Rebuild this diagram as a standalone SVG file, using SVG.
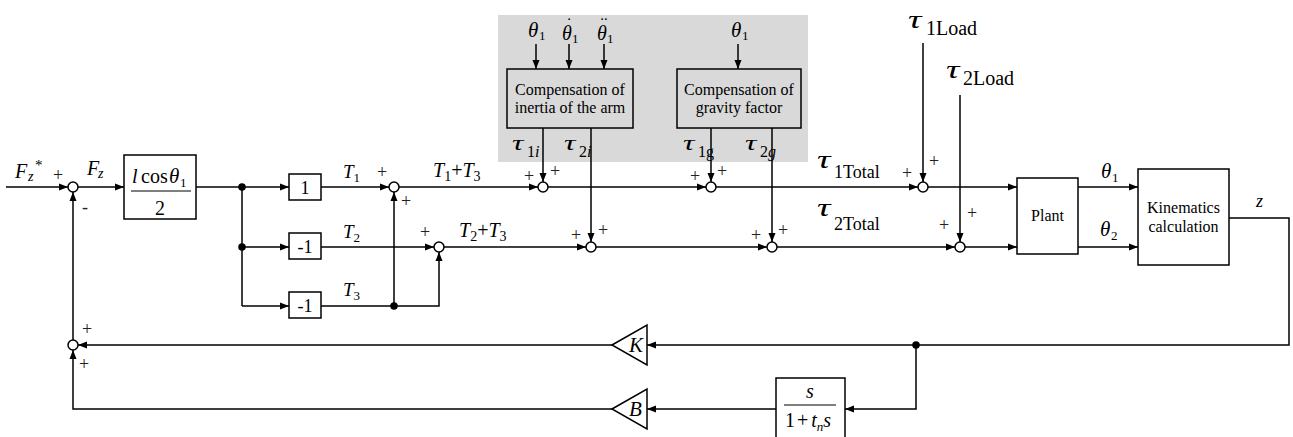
<svg xmlns="http://www.w3.org/2000/svg" width="1293" height="437" viewBox="0 0 1293 437">
<defs>
<style>
.ln{stroke:#000;stroke-width:1.5;fill:none}
.ar{marker-end:url(#ah)}
.blk{fill:#fff;stroke:#000;stroke-width:1.5}
.gblk{fill:#d9d9d9;stroke:#000;stroke-width:1.5}
.sum{fill:#fff;stroke:#000;stroke-width:1.5}
.dot{fill:#000}
text{font-family:"Liberation Serif","Times New Roman",serif;fill:#000}
.i{font-style:italic}
.pm{font-size:18px;fill:#222;text-anchor:middle}
.c{text-anchor:middle}
.bt{font-size:16px;text-anchor:middle}
</style>
<marker id="ah" markerWidth="9" markerHeight="8" refX="9" refY="4" orient="auto" markerUnits="userSpaceOnUse"><path d="M0,0.5 L9,4 L0,7.5 z" fill="#000"/></marker>
</defs>
<rect width="1293" height="437" fill="#fff"/>
<rect id="compensation-region" x="498" y="15" width="310" height="147" fill="#d9d9d9"/>

<g id="connectors" class="ln">
<path class="ar" d="M6,187 H68"/>
<path class="ar" d="M78,187 H124"/>
<path class="ar" d="M196,187 H289"/>
<path d="M242,187 V306"/>
<path class="ar" d="M242,247 H289"/>
<path class="ar" d="M242,306 H289"/>
<path class="ar" d="M321,187 H389"/>
<path class="ar" d="M321,247 H434"/>
<path class="ar" d="M321,306 H439 V252"/>
<path class="ar" d="M394,306 V192"/>
<path class="ar" d="M399,187 H538"/>
<path class="ar" d="M444,247 H586"/>
<path class="ar" d="M548,187 H706"/>
<path class="ar" d="M716,187 H918"/>
<path class="ar" d="M928,187 H1017"/>
<path class="ar" d="M596,247 H767"/>
<path class="ar" d="M777,247 H955"/>
<path class="ar" d="M965,247 H1017"/>
<path class="ar" d="M543,128 V182"/>
<path class="ar" d="M591,128 V242"/>
<path class="ar" d="M711,128 V182"/>
<path class="ar" d="M772,128 V242"/>
<path class="ar" d="M536,44 V69"/>
<path class="ar" d="M569,44 V69"/>
<path class="ar" d="M604,44 V69"/>
<path class="ar" d="M738,44 V69"/>
<path class="ar" d="M923,43 V182"/>
<path class="ar" d="M960,95 V242"/>
<path class="ar" d="M1078,187 H1138"/>
<path class="ar" d="M1078,247 H1138"/>
<path class="ar" d="M1229,218 H1289 V345 H647"/>
<path class="ar" d="M612,345 H78"/>
<path class="ar" d="M916,345 V409 H845"/>
<path class="ar" d="M776,409 H647"/>
<path class="ar" d="M612,409 H73 V350"/>
<path class="ar" d="M73,340 V192"/>
<circle class="dot" cx="242" cy="187" r="3"/>
<circle class="dot" cx="242" cy="247" r="3"/>
<circle class="dot" cx="394" cy="306" r="3"/>
<circle class="dot" cx="916" cy="345" r="3"/>
</g>

<g id="input-label">
<text x="15" y="178" class="i" font-size="20">F</text><text x="28" y="181" class="i" font-size="14">z</text><text x="35" y="170" font-size="15">*</text>
<text x="87" y="175" class="i" font-size="20">F</text><text x="98" y="178" class="i" font-size="14">z</text>
</g>

<g id="sum0"><circle class="sum" cx="73" cy="187" r="5"/><text class="pm" x="58" y="181">+</text><text class="pm" x="85" y="213">-</text></g>

<g id="gain-lcos">
<rect class="blk" x="124" y="155" width="72" height="64"/>
<text x="132" y="183" class="i" font-size="20">l</text>
<text x="141" y="183" font-size="20">cos</text>
<text x="169" y="183" class="i" font-size="21">θ</text>
<text x="180" y="187" font-size="13">1</text>
<line x1="131" y1="191" x2="191" y2="191" stroke="#000" stroke-width="1.2"/>
<text x="160" y="215" class="c" font-size="20">2</text>
</g>

<g id="gain-1"><rect class="blk" x="289" y="174" width="32" height="26"/><text x="305" y="194" class="c" font-size="18">1</text></g>
<g id="gain-m1a"><rect class="blk" x="289" y="233" width="32" height="26"/><text x="305" y="253" class="c" font-size="18">-1</text></g>
<g id="gain-m1b"><rect class="blk" x="289" y="292" width="32" height="26"/><text x="305" y="312" class="c" font-size="18">-1</text></g>

<g id="t-labels">
<text x="343" y="178" font-size="19"><tspan class="i">T</tspan><tspan font-size="13" dy="4">1</tspan></text>
<text x="343" y="238" font-size="19"><tspan class="i">T</tspan><tspan font-size="13" dy="4">2</tspan></text>
<text x="343" y="296" font-size="19"><tspan class="i">T</tspan><tspan font-size="13" dy="4">3</tspan></text>
<text x="433" y="177" font-size="20"><tspan class="i">T</tspan><tspan font-size="14" dy="4">1</tspan><tspan dy="-4">+</tspan><tspan class="i">T</tspan><tspan font-size="14" dy="4">3</tspan></text>
<text x="459" y="237" font-size="20"><tspan class="i">T</tspan><tspan font-size="14" dy="4">2</tspan><tspan dy="-4">+</tspan><tspan class="i">T</tspan><tspan font-size="14" dy="4">3</tspan></text>
</g>

<g id="sum1"><circle class="sum" cx="394" cy="187" r="5"/><text class="pm" x="382" y="178">+</text><text class="pm" x="406" y="207">+</text></g>
<g id="sum2"><circle class="sum" cx="439" cy="247" r="5"/><text class="pm" x="425" y="238">+</text></g>

<g id="inertia-comp">
<rect class="gblk" x="507" y="69" width="126" height="59"/>
<text class="bt" x="570" y="95">Compensation of</text>
<text class="bt" x="570" y="113">inertia of the arm</text>
<text x="528" y="37" class="i" font-size="21">θ</text><text x="539" y="40" font-size="13">1</text>
<text x="562" y="40" class="i" font-size="20">θ</text><text x="572" y="43" font-size="13">1</text><text x="569" y="20" class="c" font-size="15">.</text>
<text x="597" y="40" class="i" font-size="20">θ</text><text x="607" y="43" font-size="13">1</text><text x="604" y="20" class="c" font-size="15">..</text>
<text transform="translate(512,150) scale(1.45,1)" class="i" font-size="22">τ</text><text x="527" y="157" font-size="16">1<tspan class="i">i</tspan></text>
<text transform="translate(564,150) scale(1.45,1)" class="i" font-size="22">τ</text><text x="579" y="157" font-size="16">2<tspan class="i">i</tspan></text>
</g>

<g id="gravity-comp">
<rect class="gblk" x="677" y="69" width="124" height="59"/>
<text class="bt" x="739" y="95">Compensation of</text>
<text class="bt" x="739" y="113">gravity factor</text>
<text x="731" y="37" class="i" font-size="21">θ</text><text x="742" y="40" font-size="13">1</text>
<text transform="translate(683,150) scale(1.45,1)" class="i" font-size="22">τ</text><text x="698" y="157" font-size="16">1g</text>
<text transform="translate(745,150) scale(1.45,1)" class="i" font-size="22">τ</text><text x="760" y="157" font-size="16">2<tspan class="i">g</tspan></text>
</g>

<g id="sumA"><circle class="sum" cx="543" cy="187" r="5"/><text class="pm" x="529" y="182">+</text><text class="pm" x="555" y="177">+</text></g>
<g id="sumB"><circle class="sum" cx="711" cy="187" r="5"/><text class="pm" x="695" y="182">+</text><text class="pm" x="722" y="177">+</text></g>
<g id="sumC"><circle class="sum" cx="591" cy="247" r="5"/><text class="pm" x="576" y="241">+</text><text class="pm" x="603" y="236">+</text></g>
<g id="sumD"><circle class="sum" cx="772" cy="247" r="5"/><text class="pm" x="756" y="241">+</text><text class="pm" x="783" y="236">+</text></g>
<g id="sumE"><circle class="sum" cx="923" cy="187" r="5"/><text class="pm" x="907" y="179">+</text><text class="pm" x="934" y="167">+</text></g>
<g id="sumF"><circle class="sum" cx="960" cy="247" r="5"/><text class="pm" x="944" y="231">+</text><text class="pm" x="972" y="219">+</text></g>

<g id="tau-labels">
<text transform="translate(908,28) scale(1.5,1)" class="i" font-size="25">τ</text><text x="926" y="35" font-size="20">1Load</text>
<text transform="translate(946,78) scale(1.5,1)" class="i" font-size="25">τ</text><text x="963" y="85" font-size="20">2Load</text>
<text transform="translate(817,168) scale(1.5,1)" class="i" font-size="25">τ</text><text x="834" y="178" font-size="18">1Total</text>
<text transform="translate(817,216) scale(1.5,1)" class="i" font-size="25">τ</text><text x="834" y="230" font-size="18">2Total</text>
</g>

<g id="plant"><rect class="blk" x="1017" y="178" width="61" height="76"/><text class="bt" x="1047.5" y="221">Plant</text></g>

<g id="kinematics"><rect class="blk" x="1138" y="169" width="91" height="96"/><text class="bt" x="1183.5" y="213">Kinematics</text><text class="bt" x="1183.5" y="232">calculation</text></g>

<g id="out-labels">
<text x="1101" y="178" class="i" font-size="21">θ</text><text x="1112" y="182" font-size="13">1</text>
<text x="1100" y="236" class="i" font-size="21">θ</text><text x="1111" y="240" font-size="13">2</text>
<text x="1256" y="207" class="i" font-size="18">z</text>
</g>

<g id="gain-K"><polygon class="blk" points="612,345 647,325 647,365"/><text x="629" y="352" class="i" font-size="21">K</text></g>
<g id="gain-B"><polygon class="blk" points="612,409 647,389 647,429"/><text x="629" y="416" class="i" font-size="21">B</text></g>

<g id="filter">
<rect class="blk" x="776" y="378" width="69" height="62"/>
<text x="810" y="398" class="i c" font-size="20">s</text>
<line x1="784" y1="405" x2="836" y2="405" stroke="#000" stroke-width="1.2"/>
<text x="785" y="427" font-size="20">1<tspan dx="2">+</tspan><tspan dx="3" class="i">t</tspan><tspan class="i" font-size="13" dy="4">n</tspan><tspan class="i" dy="-4">s</tspan></text>
</g>

<g id="sum-feedback"><circle class="sum" cx="73" cy="345" r="5"/><text class="pm" x="87" y="335">+</text><text class="pm" x="84" y="370">+</text></g>
</svg>
